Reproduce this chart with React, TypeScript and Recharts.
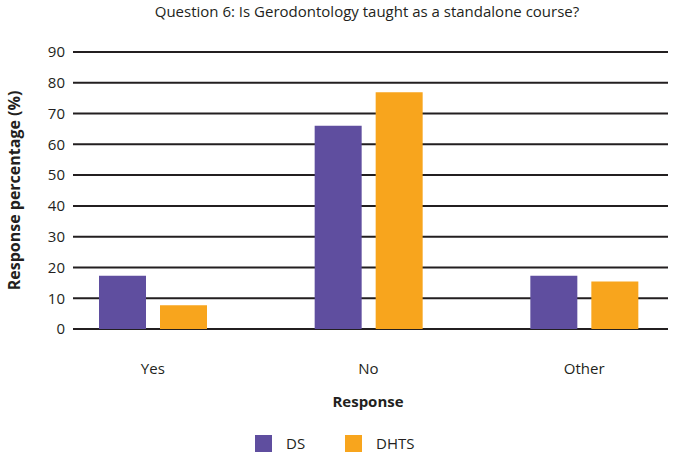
import React from "react";
import { BarChart, Bar, XAxis, YAxis, CartesianGrid } from "recharts";

const categories = ["Yes", "No", "Other"];
const dsValues = [17.3, 66.0, 17.3];
const dhtsValues = [7.7, 76.9, 15.4];
const yTicks = [0, 10, 20, 30, 40, 50, 60, 70, 80, 90];
const seriesNames = ["DS", "DHTS"];
const seriesColors = ["#5F4E9F", "#F8A51D"];

const data = categories.map((c, i) => ({ name: c, DS: dsValues[i], DHTS: dhtsValues[i] }));

const FONT = "'Open Sans', 'Noto Sans', sans-serif";
const TEXT = "#231F20";

export default function App() {
  return (
    <div style={{ position: "absolute", left: 0, top: 0, width: 685, height: 460, background: "#fff", fontFamily: FONT }}>
      <div style={{ position: "absolute", left: 0, top: 1, width: 734, textAlign: "center", fontSize: 15, color: TEXT, lineHeight: "20px" }}>
        Question 6: Is Gerodontology taught as a standalone course?
      </div>
      <BarChart
        width={685}
        height={460}
        data={data}
        margin={{ top: 52, right: 17, bottom: 101, left: 0 }}
        barSize={47}
        barGap={14}
      >
        <CartesianGrid vertical={false} stroke={TEXT} strokeWidth={2} />
        <XAxis
          dataKey="name"
          height={30}
          axisLine={false}
          tickLine={false}
          padding={{ left: -28, right: -24 }}
          tickMargin={28}
          tick={{ fill: TEXT, fontSize: 15, fontFamily: FONT }}
          label={(props: any) => {
            const vb = props.viewBox;
            return (
              <text x={368} y={vb.y + 72} textAnchor="middle" dominantBaseline="central" fontWeight="bold" fontSize={15} fill={TEXT} fontFamily={FONT}>
                Response
              </text>
            );
          }}
        />
        <YAxis
          width={73}
          domain={[0, 90]}
          ticks={yTicks}
          interval={0}
          axisLine={false}
          tickLine={false}
          tick={{ fill: TEXT, fontSize: 15, fontFamily: FONT }}
          label={(props: any) => {
            const vb = props.viewBox;
            const cy = vb.y + vb.height / 2;
            return (
              <text x={14} y={cy} transform={`rotate(-90, 14, ${cy})`} textAnchor="middle" dominantBaseline="central" fontWeight="bold" fontSize={16} fill={TEXT} fontFamily={FONT}>
                Response percentage (%)
              </text>
            );
          }}
        />
        <Bar dataKey="DS" fill={seriesColors[0]} isAnimationActive={false} />
        <Bar dataKey="DHTS" fill={seriesColors[1]} isAnimationActive={false} />
      </BarChart>
      <div style={{ position: "absolute", left: 255, top: 435, display: "flex", alignItems: "center", fontSize: 15, color: TEXT }}>
        {seriesNames.map((n, i) => (
          <div key={n} style={{ display: "flex", alignItems: "center", marginRight: i === 0 ? 40 : 0 }}>
            <div style={{ width: 17, height: 17, background: seriesColors[i], marginRight: 14 }} />
            <span style={{ lineHeight: "17px" }}>{n}</span>
          </div>
        ))}
      </div>
    </div>
  );
}
